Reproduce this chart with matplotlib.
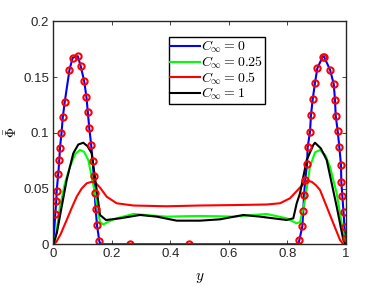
import matplotlib
matplotlib.use('Agg')
import matplotlib.pyplot as plt

plt.rcParams['mathtext.fontset'] = 'cm'
plt.rcParams['font.family'] = ['Liberation Sans', 'DejaVu Sans']

# red circles (they sit on the C=0 curve)
y_circ = [0.0068, 0.0103, 0.0116, 0.0171, 0.0205, 0.0229, 0.0280, 0.0325, 0.0390,
          0.0554, 0.0663, 0.0838, 0.0940, 0.1057, 0.1135, 0.1180, 0.1231, 0.1296,
          0.1347, 0.1382, 0.1416, 0.1450, 0.1495, 0.1573, 0.2613, 0.4641,
          0.8413, 0.8516, 0.8550, 0.8574, 0.8618, 0.8677, 0.8700, 0.8779, 0.8813,
          0.8871, 0.8950, 0.9029, 0.9213, 0.9258, 0.9463, 0.9590, 0.9634, 0.9658,
          0.9726, 0.9781, 0.9839, 0.9850, 0.9884, 0.9925, 0.9959, 0.9993]
phi_circ = [0.0269, 0.0391, 0.0481, 0.0633, 0.0756, 0.0868, 0.0994, 0.1139, 0.1274,
            0.1565, 0.1674, 0.1687, 0.1596, 0.1462, 0.1318, 0.1187, 0.1041, 0.0890,
            0.0747, 0.0613, 0.0457, 0.0314, 0.0170, 0.0030, 0.0, 0.0,
            0.0036, 0.0160, 0.0303, 0.0439, 0.0581, 0.0717, 0.0873, 0.1010, 0.1160,
            0.1300, 0.1449, 0.1578, 0.1683, 0.1683, 0.1566, 0.1438, 0.1294, 0.1153,
            0.1016, 0.0873, 0.0711, 0.0561, 0.0436, 0.0290, 0.0151, 0.0054]

# C_inf = 0 (blue)
y_c0 = [0.0] + y_circ[:24] + [0.161, 0.5, 0.838] + y_circ[26:] + [1.0]
phi_c0 = [0.0] + phi_circ[:24] + [0.0, 0.0, 0.0] + phi_circ[26:] + [0.0]

# C_inf = 0.25 (green)
y_c025 = [0.0, 0.005, 0.0116, 0.0229, 0.040, 0.0571, 0.075, 0.0913, 0.105, 0.1197,
          0.1426, 0.1597, 0.171, 0.19, 0.2168, 0.2736, 0.33, 0.3878, 0.45, 0.5017,
          0.56, 0.6156, 0.67, 0.7298, 0.7982, 0.8324, 0.8437, 0.8608, 0.8779, 0.895,
          0.9121, 0.93, 0.9463, 0.9692, 0.9863, 0.9976, 1.0]
phi_c025 = [0.0, 0.003, 0.0128, 0.0337, 0.055, 0.0696, 0.081, 0.0846, 0.083, 0.0756,
            0.0457, 0.0200, 0.0178, 0.0205, 0.0233, 0.0272, 0.026, 0.0248, 0.0252, 0.0254,
            0.0252, 0.0248, 0.026, 0.0272, 0.0233, 0.0188, 0.0200, 0.0397, 0.0696, 0.0825,
            0.0846, 0.080, 0.0696, 0.0457, 0.0188, 0.0023, 0.0]

# C_inf = 0.5 (red)
y_c05 = [0.0, 0.01, 0.025, 0.0458, 0.062, 0.08, 0.097, 0.1142, 0.1313, 0.145, 0.1597,
         0.1826, 0.2168, 0.2736, 0.3878, 0.5017, 0.62, 0.7298, 0.7753, 0.8095, 0.8437,
         0.8666, 0.8837, 0.898, 0.9121, 0.935, 0.9576, 0.9805, 0.9918, 1.0]
phi_c05 = [0.0, 0.002, 0.009, 0.0218, 0.032, 0.0427, 0.050, 0.0547, 0.0561, 0.055, 0.0509,
           0.0427, 0.0368, 0.0348, 0.0341, 0.0348, 0.0352, 0.0357, 0.0368, 0.0413, 0.0509,
           0.0570, 0.0561, 0.053, 0.0487, 0.0337, 0.0188, 0.0039, 0.0, 0.0]

# C_inf = 1 (black)
y_c1 = [0.0, 0.012, 0.0287, 0.0458, 0.0684, 0.0855, 0.1026, 0.117, 0.1313, 0.1484,
        0.1597, 0.1802, 0.2284, 0.2964, 0.3536, 0.422, 0.5017, 0.5701, 0.6498, 0.7069,
        0.7982, 0.8208, 0.8324, 0.8437, 0.8666, 0.8892, 0.895, 0.915, 0.935, 0.9692,
        0.9918, 1.0]
phi_c1 = [0.0, 0.010, 0.0337, 0.0577, 0.0816, 0.0895, 0.0911, 0.088, 0.0816, 0.0487,
          0.0263, 0.0218, 0.0233, 0.0263, 0.0248, 0.0212, 0.0212, 0.0224, 0.0263, 0.0248,
          0.0218, 0.0233, 0.0368, 0.0457, 0.0756, 0.0891, 0.0911, 0.086, 0.0756, 0.0337,
          0.0039, 0.0]

x_ticks = [0, 0.2, 0.4, 0.6, 0.8, 1]
x_ticklabels = ['0', '0.2', '0.4', '0.6', '0.8', '1']
y_ticks = [0, 0.05, 0.1, 0.15, 0.2]
y_ticklabels = ['0', '0.05', '0.1', '0.15', '0.2']

fig = plt.figure(figsize=(3.82, 2.86), dpi=100)
ax = fig.add_axes([0.1395, 0.1458, 0.7655, 0.7797])

ax.plot(y_c0, phi_c0, color='#0000ff', lw=1.5, label=r'$C_\infty = 0$')
ax.plot(y_c025, phi_c025, color='#00ff00', lw=1.5, label=r'$C_\infty = 0.25$')
ax.plot(y_c05, phi_c05, color='#ff0000', lw=1.5, label=r'$C_\infty = 0.5$')
ax.plot(y_c1, phi_c1, color='black', lw=1.5, label=r'$C_\infty = 1$')
ax.plot(y_circ, phi_circ, 'o', mfc='none', mec='#ff0000', ms=4.5, mew=1.5)

ax.set_xlim(0, 1)
ax.set_ylim(0, 0.2)
ax.set_xticks(x_ticks)
ax.set_xticklabels(x_ticklabels)
ax.set_yticks(y_ticks)
ax.set_yticklabels(y_ticklabels)
ax.tick_params(direction='in', top=True, right=True, length=3, width=0.6,
               labelsize=9.5, colors='#262626', pad=3)
for s in ax.spines.values():
    s.set_color('#262626')
    s.set_linewidth(1.0)

ax.set_xlabel(r'$y$', fontsize=11, labelpad=7.5)
ax.set_ylabel(r'$\bar{\Phi}$', fontsize=10, labelpad=3)

leg = ax.legend(loc='upper left', bbox_to_anchor=(0.3947, 0.9283), borderaxespad=0,
                fancybox=False, edgecolor='black', fontsize=10, handlelength=2.1,
                handletextpad=0.1, labelspacing=-0.05, borderpad=0.12, framealpha=1)
leg.get_frame().set_linewidth(1.0)

fig.savefig('out.png', dpi=100)
